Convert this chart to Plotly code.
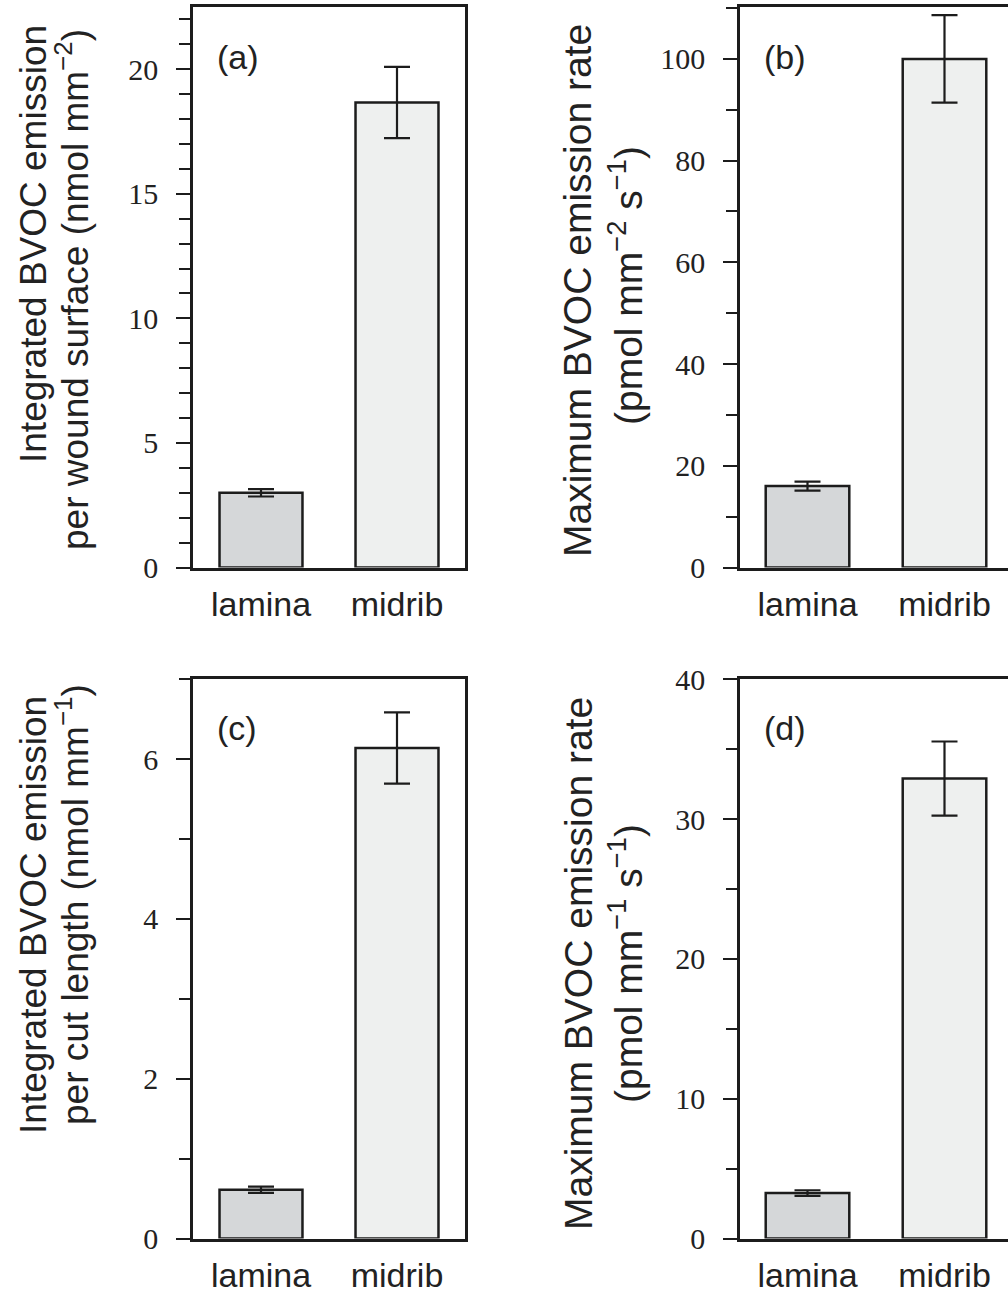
import plotly.graph_objects as go

categories = ["lamina", "midrib"]
x_pos = [0, 1]

# (a) integrated emission per wound surface (nmol mm-2)
a_vals = [3.0, 18.67]
a_err = [0.15, 1.43]
# (b) maximum emission rate per wound surface (pmol mm-2 s-1)
b_vals = [16.0, 100.0]
b_err = [0.9, 8.6]
# (c) integrated emission per cut length (nmol mm-1)
c_vals = [0.61, 6.14]
c_err = [0.04, 0.445]
# (d) maximum emission rate per cut length (pmol mm-1 s-1)
d_vals = [3.25, 32.9]
d_err = [0.2, 2.65]

W, H = 1008, 1293
bar_colors = ["#d5d7d9", "#eef0ef"]
line_col = "#1c1c1c"

def px(v):
    return v / W

def py(v):
    return 1 - v / H

panels = [
    dict(vals=a_vals, err=a_err, xd=[px(193), px(465)], yd=[py(567.5), py(7)],
         yr=[0, 22.5], major=[0, 5, 10, 15, 20], minor=1, xr=[-0.5, 1.5], right=True, label="(a)"),
    dict(vals=b_vals, err=b_err, xd=[px(740), 1.0], yd=[py(567.5), py(7)],
         yr=[0, 110.2], major=[0, 20, 40, 60, 80, 100], minor=10, xr=[-0.4927, 1.4635], right=False, label="(b)"),
    dict(vals=c_vals, err=c_err, xd=[px(193), px(465)], yd=[py(1238.5), py(679.3)],
         yr=[0, 7.0], major=[0, 2, 4, 6], minor=1, xr=[-0.5, 1.5], right=True, label="(c)"),
    dict(vals=d_vals, err=d_err, xd=[px(740), 1.0], yd=[py(1238.5), py(679.3)],
         yr=[0, 40], major=[0, 10, 20, 30, 40], minor=5, xr=[-0.4927, 1.4635], right=False, label="(d)"),
]

fig = go.Figure()
layout = dict(width=W, height=H, margin=dict(l=0, r=0, t=0, b=0, autoexpand=False),
              template="none",
              paper_bgcolor="white", plot_bgcolor="white", showlegend=False,
              annotations=[])

for i, p in enumerate(panels):
    n = "" if i == 0 else str(i + 1)
    fig.add_trace(go.Bar(
        x=x_pos, y=p["vals"], width=0.61,
        marker=dict(color=bar_colors, line=dict(color=line_col, width=2.5)),
        error_y=dict(type="data", array=p["err"], visible=True, color=line_col,
                     thickness=2.2, width=13),
        xaxis="x" + n, yaxis="y" + n,
    ))
    layout["xaxis" + n] = dict(
        domain=p["xd"], range=p["xr"], anchor="y" + n, automargin=False,
        tickvals=x_pos, ticktext=categories, ticks="",
        showline=True, linecolor=line_col, linewidth=2.5, mirror=True,
        showgrid=False, zeroline=False,
        tickfont=dict(family="Liberation Sans, Arial, sans-serif", size=34, color="#222"),
        ticklabelstandoff=5,
    )
    layout["yaxis" + n] = dict(
        domain=p["yd"], range=p["yr"], anchor="x" + n, automargin=False,
        tickvals=p["major"], ticks="outside", ticklen=14, tickwidth=2.2, tickcolor=line_col,
        minor=dict(dtick=p["minor"], tick0=0, ticks="outside", ticklen=11, tickwidth=2.2,
                   tickcolor=line_col, showgrid=False),
        showline=True, linecolor=line_col, linewidth=2.5,
        mirror=True if p["right"] else False,
        showgrid=False, zeroline=False,
        tickfont=dict(family="Liberation Serif, Times New Roman, serif", size=30, color="#222"),
        ticklabelstandoff=12,
    )
    # panel label
    lx = 215 if p["right"] else 762
    ly = 57 if i < 2 else 728
    layout["annotations"].append(dict(
        text=p["label"], xref="paper", yref="paper", x=px(lx), y=py(ly),
        xanchor="left", yanchor="middle", showarrow=False,
        font=dict(family="Liberation Sans, Arial, sans-serif", size=34, color="#222")))

font_int = dict(family="Liberation Sans, Arial, sans-serif", size=37, color="#222")
font_max = dict(family="Liberation Sans, Arial, sans-serif", size=39, color="#222")
titles = [
    ("Integrated BVOC emission", 33, 244, font_int),
    ("per wound surface (nmol mm<sup>−2</sup>)", 72, 290, font_int),
    ("Maximum BVOC emission rate", 578, 291, font_max),
    ("(pmol mm<sup>−2</sup> s<sup>−1</sup>)", 625, 286, font_max),
    ("Integrated BVOC emission", 33, 915, font_int),
    ("per cut length (nmol mm<sup>−1</sup>)", 72, 905, font_int),
    ("Maximum BVOC emission rate", 578, 964, font_max),
    ("(pmol mm<sup>−1</sup> s<sup>−1</sup>)", 625, 964, font_max),
]
for t, x, y, f in titles:
    layout["annotations"].append(dict(
        text=t, xref="paper", yref="paper", x=px(x), y=py(y), textangle=-90,
        xanchor="center", yanchor="middle", showarrow=False, font=f))

fig.update_layout(**layout)
fig.write_html("out.html", config={"displayModeBar": False},
               post_script="document.body.style.margin='0';document.body.style.overflow='hidden';")
